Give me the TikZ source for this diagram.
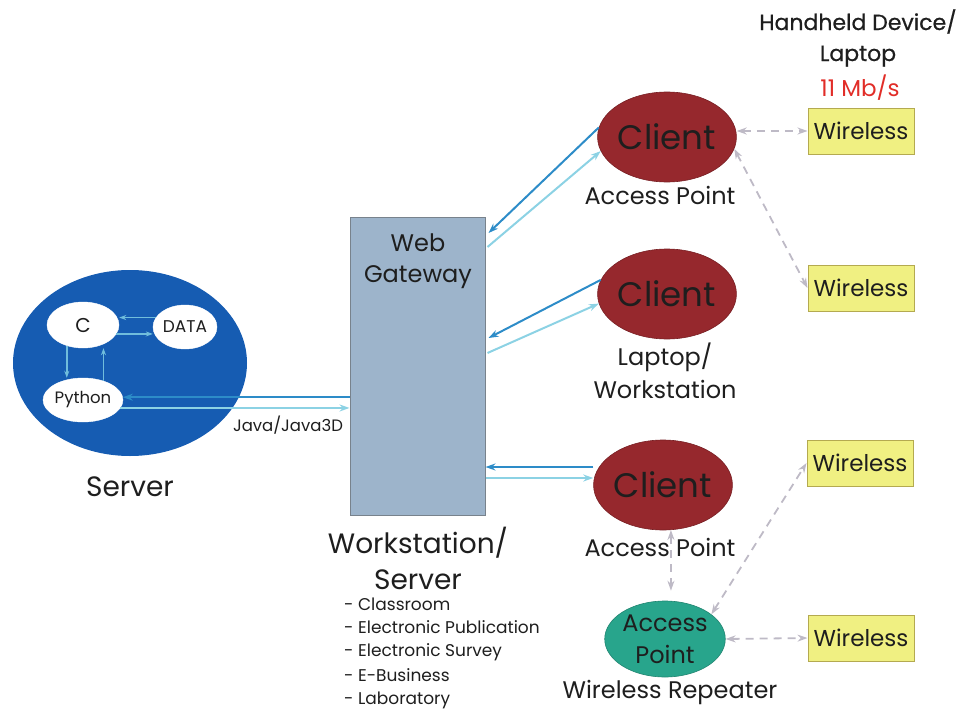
\documentclass[tikz,border=0pt]{standalone}
\usepackage{fontspec}
\setmainfont{Poppins}
\usetikzlibrary{shapes.geometric,arrows.meta}
\definecolor{srvblue}{RGB}{22,92,178}
\definecolor{clired}{RGB}{150,40,45}
\definecolor{apgreen}{RGB}{40,165,140}
\definecolor{gwfill}{RGB}{157,180,203}
\definecolor{gwdraw}{RGB}{120,130,140}
\definecolor{wlfill}{RGB}{240,240,130}
\definecolor{wldraw}{RGB}{180,170,80}
\definecolor{darkln}{RGB}{45,140,200}
\definecolor{lightln}{RGB}{140,210,228}
\definecolor{dashln}{RGB}{190,186,198}
\definecolor{txt}{RGB}{30,30,30}
\definecolor{rate}{RGB}{225,45,40}
\newcommand{\fs}[1]{\fontsize{#1}{#1}\selectfont}
\tikzset{
  ell/.style={ellipse, inner sep=0pt, text=txt},
  client/.style={ell, fill=clired, draw=clired!80!black, line width=0.6pt, minimum width=130pt, minimum height=90pt, font=\fs{34}},
  inner/.style={ell, fill=white, draw=white},
  wbox/.style={rectangle, fill=wlfill, draw=wldraw, line width=1pt, minimum width=106pt, minimum height=46pt, inner sep=0pt, font=\fs{23}, text=txt},
  lbl/.style={inner sep=0pt, text=txt, align=center},
  darkar/.style={draw=darkln, line width=2pt, -{Stealth[length=10pt,width=7pt]}},
  lightar/.style={draw=lightln, line width=2pt, -{Stealth[length=10pt,width=7pt]}},
  smallar/.style={draw=lightln!70!darkln, line width=1.6pt, -{Stealth[length=7pt,width=5pt]}},
  dashar/.style={draw=dashln, line width=1.8pt, dash pattern=on 8pt off 6pt, {Stealth[length=10pt,width=7pt]}-{Stealth[length=10pt,width=7pt]}},
}
\begin{document}
\begin{tikzpicture}[x=1pt,y=-1pt]
\useasboundingbox (0,0) rectangle (972,709);
% server
\node[ell, fill=srvblue, minimum width=234pt, minimum height=186pt] (srv) at (130,363) {};
\node[inner, minimum width=72pt, minimum height=46pt, font=\fs{20}] (c) at (83,325) {C};
\node[inner, minimum width=64pt, minimum height=44pt, font=\fs{17}] (data) at (185,327) {DATA};
\node[inner, minimum width=76pt, minimum height=44pt, font=\fs{16.5}] (py) at (83,400) {Python};
\node[lbl, font=\fs{28}] (srvlbl) at (130,487) {Server};
\draw[smallar] (data.162) -- (c.east |- data.162);
\draw[smallar] (c.-15) -- (data.west |- c.-15);
\draw[smallar] (c.232) -- (c.232 |- py.north);
\draw[smallar] (py.43) -- (py.43 |- c.south);
% gateway
\node[rectangle, fill=gwfill, draw=gwdraw, line width=1pt, minimum width=135pt, minimum height=298pt, inner sep=0pt] (gw) at (417.5,366.5) {};
\node[lbl, font=\fs{24}] (gwtext) at (418,261) {Web\\[7pt]Gateway};
\draw[darkar] (gw.west |- py.4) -- (py.4);
\draw[lightar] (py.-12) -- (gw.west |- py.-12);
\node[lbl, font=\fs{16.5}] (java) at (288,425) {Java/Java3D};
\node[lbl, font=\fs{28}] (wslbl) at (418,558) {Workstation/\\[8pt]Server};
\node[lbl, font=\fs{17}, align=left, anchor=north west] (uses) at (344,598) {- Classroom\\[6pt]- Electronic Publication\\[6pt]- Electronic Survey\\[6pt]- E-Business\\[6pt]- Laboratory};
% clients
\node[client] (c1) at (667,137) {Client};
\node[client] (c2) at (667,294) {Client};
\node[client] (c3) at (663,485) {Client};
\node[lbl, font=\fs{24}] (c1lbl) at (660,195) {Access Point};
\node[lbl, font=\fs{24}] (c2lbl) at (665,371) {Laptop/\\[8pt]Workstation};
\node[lbl, font=\fs{24}] (c3lbl) at (660,547) {Access Point};
\node[ell, fill=apgreen, draw=apgreen!80!black, line width=0.6pt, minimum width=106pt, minimum height=76pt, font=\fs{24}, align=center] (ap) at (665,639) {Access\\[8pt]Point};
\node[lbl, font=\fs{24}] (aplbl) at (670,692) {Wireless Repeater};
% wireless
\node[wbox] (w1) at (861,131) {Wireless};
\node[wbox] (w2) at (861,288) {Wireless};
\node[wbox] (w3) at (860,463) {Wireless};
\node[wbox] (w4) at (861,638) {Wireless};
\node[lbl, font=\fs{22}] (hh) at (858,38) {\addfontfeature{FakeBold=0.6}Handheld Device/\\[9pt]\addfontfeature{FakeBold=0.6}Laptop};
\node[lbl, font=\fs{23}, text=rate] (rt) at (860,88) {11 Mb/s};
% client links
\draw[darkar] (c1.172) -- ([xshift=3pt,yshift=-16pt]gw.north east);
\draw[lightar] ([xshift=2pt,yshift=-30pt]gw.north east) -- (c1.192);
\draw[darkar] (c2.168) -- ([xshift=3pt,yshift=-121pt]gw.north east);
\draw[lightar] ([xshift=2pt,yshift=-136pt]gw.north east) -- (c2.188);
\draw[darkar] (c3.west |- 0,467) -- (gw.east |- 0,467);
\draw[lightar] (gw.east |- 0,478) -- (c3.west |- 0,478);
% wireless links
\draw[dashar] (c1.east |- w1.west) -- (w1.west);
\draw[dashar] (c1.-10) -- (w2.west);
\draw[dashar, shorten >=10pt] (c3.-80) -- (c3.-80 |- ap.north);
\draw[dashar] (ap.28) -- (w3.west);
\draw[dashar] (ap.east) -- (w4.west);
\end{tikzpicture}
\end{document}
